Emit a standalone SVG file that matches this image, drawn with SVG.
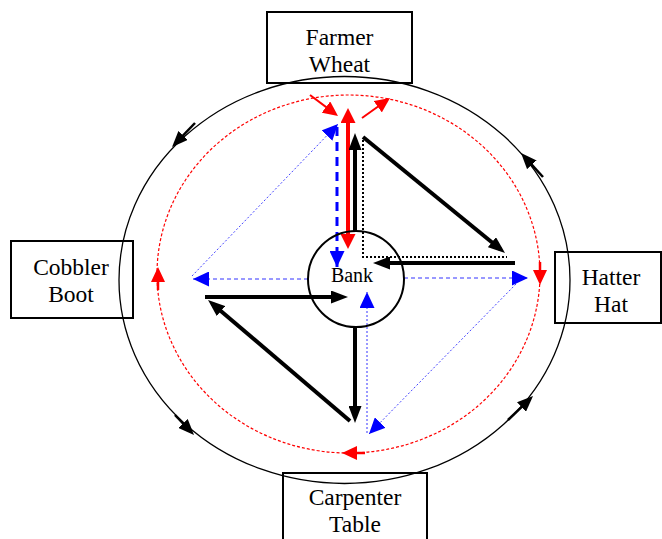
<svg xmlns="http://www.w3.org/2000/svg" width="662" height="539" viewBox="0 0 662 539">
<style>
.box{fill:none;stroke:#000;stroke-width:2}
.thick{stroke:#000;stroke-width:4;fill:none;marker-end:url(#hb)}
.outerArr{stroke:#000;stroke-width:2.5;fill:none;marker-end:url(#ho)}
.redSmall{stroke:#ff0000;stroke-width:2.5;fill:none;marker-end:url(#hrs)}
.redDiag{stroke:#ff0000;stroke-width:2;fill:none;marker-end:url(#hrs)}
.blueDash{stroke:#3333ff;stroke-width:1;stroke-dasharray:4,3;fill:none;marker-end:url(#hbl)}
.blueDot{stroke:#4444ff;stroke-width:1;stroke-dasharray:2,2;fill:none;marker-end:url(#hbl)}
</style>
<defs>
<marker id="hb" markerUnits="userSpaceOnUse" markerWidth="17" markerHeight="13" refX="11" refY="6.5" orient="auto"><path d="M0,0 L17,6.5 L0,13 z" fill="#000"/></marker>
<marker id="ho" markerUnits="userSpaceOnUse" markerWidth="16" markerHeight="13" refX="10" refY="6.5" orient="auto"><path d="M0,0 L16,6.5 L0,13 z" fill="#000"/></marker>
<marker id="hr" markerUnits="userSpaceOnUse" markerWidth="15" markerHeight="15" refX="9" refY="7.5" orient="auto-start-reverse"><path d="M0,0 L15,7.5 L0,15 z" fill="#ff0000"/></marker>
<marker id="hrs" markerUnits="userSpaceOnUse" markerWidth="15" markerHeight="14" refX="9" refY="7" orient="auto"><path d="M0,0 L15,7 L0,14 z" fill="#ff0000"/></marker>
<marker id="hbl" markerUnits="userSpaceOnUse" markerWidth="16" markerHeight="15" refX="16" refY="7.5" orient="auto"><path d="M0,0 L16,7.5 L0,15 z" fill="#0000ff"/></marker>
</defs>

<g id="connectors">
  <ellipse cx="344.5" cy="280" rx="225.5" ry="203.5" fill="none" stroke="#000" stroke-width="1.3"/>
  <line class="outerArr" x1="195" y1="123" x2="176.2" y2="142.7"/>
  <line class="outerArr" x1="175" y1="415" x2="189.9" y2="430.7"/>
  <line class="outerArr" x1="508" y1="420" x2="528.7" y2="400.1"/>
  <line class="outerArr" x1="543" y1="177" x2="525.1" y2="157.4"/>

  <ellipse cx="348.5" cy="274" rx="191.5" ry="179" fill="none" stroke="#ff0000" stroke-width="1.2" stroke-dasharray="3,2"/>
  <line class="redSmall" x1="158" y1="290" x2="158" y2="273"/>
  <line class="redSmall" x1="540" y1="262" x2="540" y2="279"/>
  <line class="redSmall" x1="365" y1="453" x2="348" y2="453"/>
  <line class="redDiag" x1="310" y1="95" x2="333.2" y2="112.4"/>
  <line class="redDiag" x1="362" y1="118" x2="385.1" y2="101.5"/>
  <line x1="348" y1="114" x2="348" y2="243" stroke="#ff0000" stroke-width="4" marker-start="url(#hr)" marker-end="url(#hr)"/>

  <line class="blueDash" x1="308" y1="279" x2="193" y2="279"/>
  <line class="blueDash" x1="404" y1="278" x2="528" y2="278"/>
  <line class="blueDot" x1="192" y1="276" x2="338" y2="124"/>
  <line class="blueDot" x1="516" y1="284" x2="369" y2="434"/>
  <line x1="337" y1="127" x2="337" y2="267" stroke="#0000ff" stroke-width="3" stroke-dasharray="9,6" marker-end="url(#hbl)"/>
  <line x1="367" y1="433" x2="367" y2="292" stroke="#9999ff" stroke-width="2" stroke-dasharray="2,2" marker-end="url(#hbl)"/>

  <polyline points="363,140 363,257 507,257" fill="none" stroke="#000" stroke-width="2" stroke-dasharray="2,2"/>
  <line class="thick" x1="355" y1="231" x2="355" y2="139"/>
  <line class="thick" x1="363" y1="137" x2="500.4" y2="249.2"/>
  <line class="thick" x1="515" y1="263" x2="379" y2="263"/>
  <line class="thick" x1="205" y1="297" x2="342" y2="297"/>
  <line class="thick" x1="350" y1="421" x2="212.6" y2="303.9"/>
  <line class="thick" x1="355" y1="327" x2="355" y2="417"/>
</g>

<g font-family="Liberation Serif, Times New Roman, DejaVu Serif, serif" fill="#000" text-anchor="middle">
<g id="bank">
  <circle cx="356" cy="279" r="48" fill="none" stroke="#000" stroke-width="2"/>
  <text x="352" y="282" font-size="20">Bank</text>
</g>
<g id="farmer" font-size="23.5">
  <rect class="box" x="267" y="12" width="145" height="71"/>
  <text x="339.5" y="45">Farmer</text>
  <text x="339.5" y="72">Wheat</text>
</g>
<g id="cobbler" font-size="23.5">
  <rect class="box" x="11" y="241" width="122" height="77"/>
  <text x="71" y="275">Cobbler</text>
  <text x="71" y="302">Boot</text>
</g>
<g id="hatter" font-size="23.5">
  <rect class="box" x="555" y="252" width="106" height="71"/>
  <text x="611" y="285">Hatter</text>
  <text x="611" y="312">Hat</text>
</g>
<g id="carpenter" font-size="23.5">
  <rect class="box" x="283" y="473" width="144" height="75"/>
  <text x="355" y="505">Carpenter</text>
  <text x="355" y="532">Table</text>
</g>
</g>
</svg>
